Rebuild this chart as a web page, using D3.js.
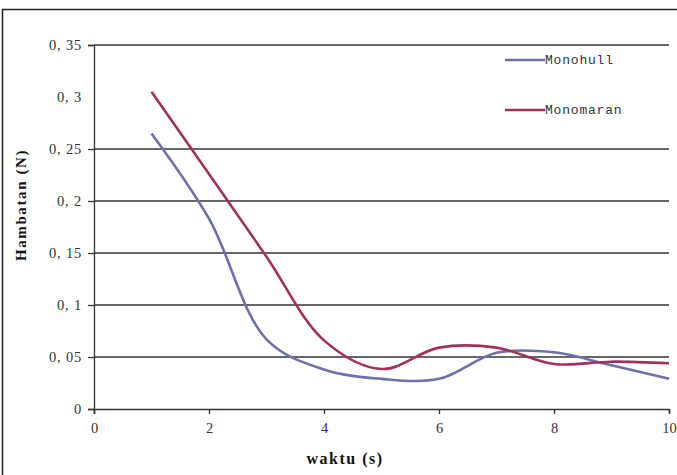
<!DOCTYPE html>
<html><head><meta charset="utf-8">
<script src="https://cdn.jsdelivr.net/npm/d3@7"></script>
<style>body{margin:0;background:#fff}svg{display:block}</style>
</head><body><svg id="c" width="677" height="475"></svg>
<script>
const xValues = [1,2,3,4,5,6,7,8,9,10];
const monohull = [0.265,0.183,0.067,0.038,0.029,0.029,0.054,0.0545,0.042,0.029];
const monomaran = [0.305,0.226,0.1465,0.066,0.0385,0.059,0.059,0.0433,0.0455,0.044];
const seriesNames = ["Monohull","Monomaran"];
const seriesColors = ["#6f6fab","#a3305c"];
const yTicks = [0,0.05,0.1,0.15,0.2,0.25,0.3,0.35];
const yTickLabels = ["0","0, 05","0, 1","0, 15","0, 2","0, 25","0, 3","0, 35"];
const gridTicks = [0.05,0.1,0.15,0.2,0.25,0.35];
const xTicks = [0,2,4,6,8,10];

const svg = d3.select("#c");
svg.append("rect").attr("x",2.5).attr("y",9.5).attr("width",700).attr("height",500)
  .attr("fill","#fff").attr("stroke","#222").attr("stroke-width",1.5);

const x = d3.scaleLinear().domain([0,10]).range([94,669]);
const y = d3.scaleLinear().domain([0,0.35]).range([409,45]);
const font = "'Liberation Serif', serif";

// gridlines
svg.append("g").selectAll("line").data(gridTicks).join("line")
  .attr("x1",x(0)).attr("x2",x(10)).attr("y1",d=>y(d)).attr("y2",d=>y(d))
  .attr("stroke","#333").attr("stroke-width",1.3);

// y axis
const yAxis = svg.append("g").attr("transform",`translate(${x(0)},0)`)
  .call(d3.axisLeft(y).tickValues(yTicks).tickSize(6).tickPadding(6)
    .tickFormat((d,i)=>yTickLabels[i]));
yAxis.select(".domain").attr("stroke","#333").attr("stroke-width",1.3);
yAxis.selectAll(".tick line").attr("stroke","#333").attr("stroke-width",1.3)
  .attr("display",d=>d===0.3?"none":null);
yAxis.selectAll("text").attr("font-family",font).attr("font-size",14.5).attr("fill","#333")
  .style("letter-spacing","0.8px");

// x axis
const xAxis = svg.append("g").attr("transform",`translate(0,${y(0)})`)
  .call(d3.axisBottom(x).tickValues(xTicks).tickSize(5).tickPadding(9).tickFormat(d3.format("d")));
xAxis.select(".domain").attr("stroke","#333").attr("stroke-width",1.5);
xAxis.selectAll(".tick line").attr("stroke","#333").attr("stroke-width",1.3);
xAxis.selectAll("text").attr("font-family",font).attr("font-size",14.5).attr("fill","#333");

// lines
const line = d3.line().x((d,i)=>x(xValues[i])).y(d=>y(d)).curve(d3.curveCatmullRom.alpha(0.5));
[monohull,monomaran].forEach((s,k)=>{
  svg.append("path").datum(s).attr("d",line).attr("fill","none")
    .attr("stroke",seriesColors[k]).attr("stroke-width",2.6).attr("stroke-linejoin","round");
});

// legend
const lg = svg.append("g");
seriesNames.forEach((n,k)=>{
  const ly = 60 + k*50;
  lg.append("line").attr("x1",505).attr("x2",545).attr("y1",ly).attr("y2",ly)
    .attr("stroke",seriesColors[k]).attr("stroke-width",2.6);
  lg.append("text").attr("x",545).attr("y",ly+4).text(n)
    .attr("font-family","'Liberation Mono', monospace").attr("font-size",13).attr("fill","#333")
    .style("letter-spacing","0.8px");
});

// axis titles
svg.append("text").attr("x",345).attr("y",464).attr("text-anchor","middle")
  .attr("font-family",font).attr("font-weight","bold").attr("font-size",16).attr("fill","#111")
  .style("letter-spacing","1.5px").text("waktu (s)");
svg.append("text").attr("transform","translate(26,205) rotate(-90)").attr("text-anchor","middle")
  .attr("font-family",font).attr("font-weight","bold").attr("font-size",15).attr("fill","#111")
  .style("letter-spacing","1.6px").text("Hambatan  (N)");
</script></body></html>
